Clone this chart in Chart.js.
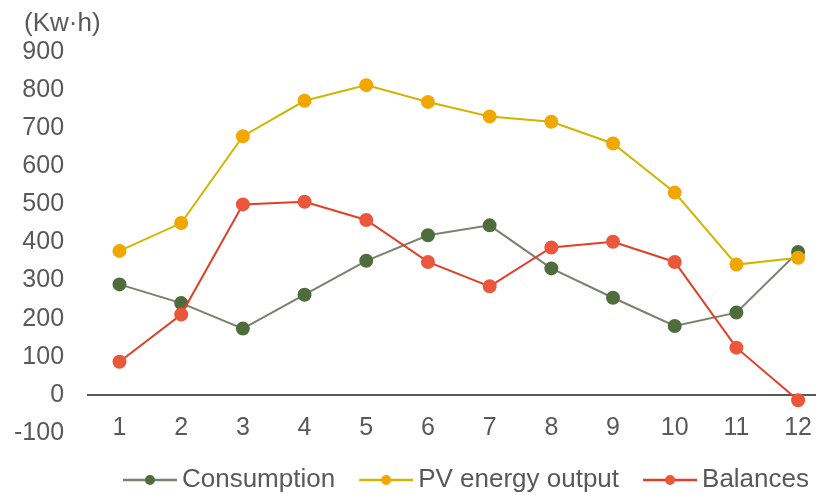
<!DOCTYPE html>
<html>
<head>
<meta charset="utf-8">
<script src="https://cdn.jsdelivr.net/npm/chart.js@4"></script>
<style>
  html, body { margin: 0; padding: 0; background: #fff; }
  #wrap { width: 830px; height: 495px; }
</style>
</head>
<body>
<div id="wrap"><canvas id="chart"></canvas></div>
<script>
// monthly energy balance
const months = [1, 2, 3, 4, 5, 6, 7, 8, 9, 10, 11, 12];
const consumption = [290, 241, 174, 263, 352, 419, 445, 332, 255, 181, 216, 375];
const pvOutput = [378, 451, 679, 772, 813, 769, 731, 717, 660, 531, 342, 360];
const balances = [87, 211, 500, 507, 459, 349, 285, 387, 402, 349, 124, -14];
const yTicks = [-100, 0, 100, 200, 300, 400, 500, 600, 700, 800, 900];
const unitLabel = '(Kw·h)';

const textColor = '#595959';
const font = 'Liberation Sans, Arial, sans-serif';

// legend swatch: short line with a dot, drawn on the right part of a wider canvas
function swatch(lineColor, dotColor) {
  const c = document.createElement('canvas');
  c.width = 65; c.height = 12;
  const g = c.getContext('2d');
  g.strokeStyle = lineColor;
  g.lineWidth = 2.5;
  g.beginPath(); g.moveTo(11, 6); g.lineTo(65, 6); g.stroke();
  g.fillStyle = dotColor;
  g.beginPath(); g.arc(38, 6, 5, 0, Math.PI * 2); g.fill();
  return c;
}

function series(label, values, lineColor, dotColor, order) {
  return {
    label,
    data: values.map((v, i) => ({ x: months[i], y: v })),
    borderColor: lineColor,
    backgroundColor: dotColor,
    pointBackgroundColor: dotColor,
    pointBorderColor: dotColor,
    pointRadius: 6,
    pointHoverRadius: 6,
    borderWidth: 2,
    tension: 0,
    clip: false,
    order,
    legendImage: swatch(lineColor, dotColor),
  };
}

const unitPlugin = {
  id: 'unit',
  afterDraw(chart) {
    const { ctx, chartArea } = chart;
    ctx.save();
    ctx.fillStyle = textColor;
    ctx.font = '26px ' + font;
    ctx.textBaseline = 'middle';
    ctx.fillText(unitLabel, chartArea.left - 64, chartArea.top - 28);
    ctx.restore();
  },
};

new Chart(document.getElementById('chart'), {
  type: 'line',
  data: {
    datasets: [
      series('Consumption', consumption, '#78826e', '#4f6c3c', 3),
      series('PV energy output', pvOutput, '#cdb700', '#f2a700', 2),
      series('Balances', balances, '#e23f28', '#ea573b', 1),
    ],
  },
  options: {
    responsive: true,
    maintainAspectRatio: false,
    animation: false,
    layout: { autoPadding: false, padding: { top: 52, left: -10, right: 0, bottom: -8 } },
    plugins: {
      tooltip: { enabled: false },
      legend: {
        position: 'bottom',
        align: 'end',
        title: { display: true, text: ' ', font: { size: 10 }, padding: { top: 0, bottom: 1 } },
        labels: {
          color: textColor,
          font: { size: 26, family: font },
          usePointStyle: true,
          pointStyleWidth: 49,
          padding: 21,
          generateLabels(chart) {
            return chart.data.datasets.map((ds, i) => ({
              text: ds.label,
              pointStyle: ds.legendImage,
              fontColor: textColor,
              lineWidth: 0,
              datasetIndex: i,
              hidden: false,
            }));
          },
        },
      },
    },
    scales: {
      x: {
        type: 'linear',
        position: { y: 0 },
        min: 0.49,
        max: 12.29,
        afterBuildTicks(scale) { scale.ticks = months.map(v => ({ value: v })); },
        ticks: { color: textColor, font: { size: 25, family: font }, padding: 18 },
        grid: { display: false, drawTicks: false },
        border: { display: true, color: '#595959', width: 2 },
      },
      y: {
        min: yTicks[0],
        max: yTicks[yTicks.length - 1],
        afterBuildTicks(scale) { scale.ticks = yTicks.map(v => ({ value: v })); },
        ticks: { color: textColor, font: { size: 25, family: font }, padding: 24 },
        grid: { display: false, drawTicks: false },
        border: { display: false },
      },
    },
  },
  plugins: [unitPlugin],
});
</script>
</body>
</html>
